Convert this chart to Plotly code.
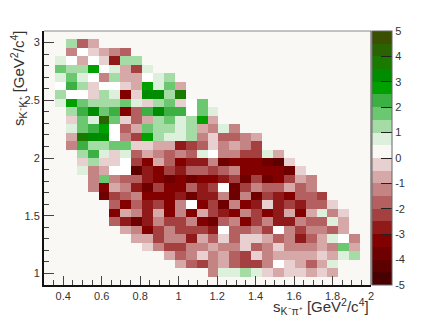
import numpy as np
import plotly.graph_objects as go

W = 9  # pure white cell
row_start = [2,2,1,1,1,1,1,1,2,2,2,2,2,3,3,3,4,4,5,6,6,6,7,8,9,11,12,15]
rows = [
[1.2,-1.8,-.8],
[-1.3,W,-.3,-.8,-1.3,-1.8],
[.7,W,-.8,W,-.3,-2.8,1.2,1.2],
[1.7,1.2,1.2,2.7,W,.7,-.8,-2.3,.7],
[.7,1.7,.7,W,-1.3,1.2,-.8,-.8,W,.7,1.2],
[W,2.2,1.2,-.3,W,W,-.3,-.8,2.7,.7,1.7,-.8],
[1.2,W,W,-.3,1.2,.7,-3.3,-.3,3.2,3.2,1.2,3.7],
[.7,2.7,1.7,1.2,1.2,1.2,1.7,.7,-.3,1.2,1.7,-.3,W,1.7],
[1.2,2.2,3.2,1.7,2.2,-3.3,-1.8,2.2,3.2,2.2,2.2,W,1.7,.7],
[-.3,1.7,.7,4.2,1.7,-.3,-1.8,-.8,1.2,1.7,.7,1.2,2.7,-.8],
[.7,1.7,2.2,2.7,W,-1.8,-.8,1.7,1.2,1.2,.7,1.2,-.8,-1.3,.7,-1.3],
[-.8,3.7,3.2,3.2,W,-1.3,-2.3,2.7,1.2,.7,.7,1.2,-1.3,-.3,-1.8,-1.8,-1.3,-.8],
[-1.3,2.2,1.2,1.2,1.7,1.7,-.3,-.3,-.8,-.8,-2.8,-2.3,-1.8,-.3,-1.3,-.8,-1.3,-2.3],
[1.2,2.2,.7,-.3,.7,-1.8,-.8,-1.3,-1.8,-1.3,-1.8,.7,W,-1.3,-1.3,-2.3,-2.3,.7,-.8],
[-.3,1.2,-.3,-.3,W,-2.3,-3.3,-.8,-1.8,-3.3,-2.8,-2.8,-1.3,-3.8,-3.3,-3.3,-3.3,-3.8,-4.2,-.3],
[.7,-1.3,-.8,W,W,-4.2,-2.8,-3.3,-2.3,-2.8,-1.8,-1.8,-2.3,-1.8,-1.3,-3.3,-3.3,-3.3,-3.3,-3.7,-.3],
[-1.3,1.7,-1.3,-1.8,-1.8,-2.8,-3.3,-3.7,-3.3,-3.7,-3.3,-3.3,-2.8,-2.3,-3.8,-2.3,-3.7,-3.3,-2.3,-.8,-1.3],
[-1.3,-3.2,-.8,-1.3,-2.8,-3.7,-2.3,-3.3,-3.3,-1.8,-2.8,-2.3,W,-3.8,-2.3,-1.3,-1.8,-1.8,-.8,-1.8,-1.3],
[-3.8,-2.3,-1.8,-1.3,-3.3,-3.3,-3.3,-2.8,-3.8,-2.8,-2.8,-1.3,-3.7,-1.3,-3.8,-2.3,-2.8,-3.3,-1.8,-1.8,-2.3],
[-1.8,-3.3,-1.8,-2.8,-2.3,-3.3,-1.3,W,-3.3,-2.3,-3.8,-1.3,-3.3,-2.8,-.3,-2.8,-2.3,-2.8,-1.8,-1.8,-.3],
[-3.3,-1.0,-1.3,-2.8,-.8,-3.3,-1.3,-3.3,-.8,-2.3,-2.8,-3.3,-1.3,-2.3,-3.3,-2.8,-.8,-3.3,-.8,.7,-1.3,-.3],
[-1.8,-2.8,-3.8,-2.8,-1.3,-2.3,-2.3,-1.3,-3.3,-3.8,-1.8,-1.3,-3.3,-2.3,-1.3,-2.8,-2.8,-1.3,-1.8,-1.8,.7,-.8],
[-.8,-1.3,-3.3,-2.3,-1.3,-2.3,-2.3,-2.3,-2.8,W,-1.8,-1.8,-1.3,-2.3,W,-1.3,-2.3,-1.3,-1.3,-1.8,-.8],
[-.8,-.8,-2.3,-1.3,-1.3,-2.8,-.8,-1.8,-.3,-1.8,-.3,-.3,-.8,-1.8,-1.3,-2.8,-1.8,-.8,.7,W,-1.3],
[-.3,-1.3,-2.3,-2.3,-1.3,-1.3,-.8,-1.3,-1.3,-.3,-1.8,-1.3,-.3,-1.3,-1.3,-1.3,-.8,-1.3,1.7,-.8],
[-.8,-1.8,-1.3,-.3,-1.3,-.8,-1.8,-2.3,-.3,-1.3,-.8,-.8,-.8,-.8,-.3,-.8,.7,1.2],
[-.8,-1.8,-2.3,-1.3,-.8,-1.8,-2.3,-2.3,-1.3,W,-.3,-.8,-1.8,-.8,.7],
[-1.3,.7,.7,1.2,.7,-.3,-.8,-.3,-.3,-.8,-.3,-.8],
]
band_colors = ["#4a0000","#5c0000","#6e0000","#820000","#901a1a","#a54040","#b56060","#c48484","#d6a8a8","#e8d0d0",
               "#faf8f5","#dcf0dc","#a5dca5","#6cc870","#3cb043","#00a000","#008c00","#1a7a00","#2a6400","#3a4f00"]
bar_ticks = [-5,-4,-3,-2,-1,0,1,2,3,4,5]
x_ticks = [0.4,0.6,0.8,1,1.2,1.4,1.6,1.8,2]
x_labels = ["0.4","0.6","0.8","1","1.2","1.4","1.6","1.8","2"]
y_ticks = [1,1.5,2,2.5,3]
y_labels = ["1","1.5","2","2.5","3"]

NX, NY = 30, 30
x_edges = np.linspace(0.3, 2.0, NX + 1)
y_edges = np.linspace(3.1, 0.9, NY + 1)
xc = (x_edges[:-1] + x_edges[1:]) / 2
yc = (y_edges[:-1] + y_edges[1:]) / 2

Z = np.full((NY, NX), np.nan)
for i, (s, r) in enumerate(zip(row_start, rows)):
    Z[i + 1, s:s + len(r)] = r
mask = Z == W
Zc = Z.copy(); Zc[mask] = np.nan
Zw = np.where(mask, 1.0, np.nan)

n = len(band_colors)
cs = []
for i, c in enumerate(band_colors):
    cs += [[i / n, c], [(i + 1) / n, c]]

fig = go.Figure()
fig.add_trace(go.Heatmap(x=xc, y=yc, z=Zw, showscale=False, hoverinfo="skip",
                         colorscale=[[0, "#ffffff"], [1, "#ffffff"]]))
fig.add_trace(go.Heatmap(x=xc, y=yc, z=Zc, zmin=-5, zmax=5, colorscale=cs,
    colorbar=dict(thickness=20, len=1, lenmode="fraction", x=1.003, xanchor="left", y=0, yanchor="bottom",
                  tickvals=bar_ticks, ticktext=[str(v) for v in bar_ticks],
                  ticks="inside", ticklen=11, tickcolor="#222", tickwidth=1,
                  outlinecolor="#666", outlinewidth=1, borderwidth=0, xpad=0, ypad=0,
                  tickfont=dict(family="Liberation Sans", size=11, color="#333"))))
axis_font = dict(family="Liberation Sans", size=11, color="#333")
fig.update_layout(
    width=428, height=309, autosize=False,
    margin=dict(l=35.5, r=65, t=23, b=32),
    paper_bgcolor="white", plot_bgcolor="#faf8f5",
    xaxis=dict(range=[0.3, 2.0], tickvals=x_ticks, ticktext=x_labels, tickangle=0, automargin=False,
               ticks="inside", ticklen=9, tickcolor="#444", tickwidth=1,
               tickfont=axis_font, showgrid=False, zeroline=False, showline=True, linecolor="#111", linewidth=2,
               minor=dict(dtick=0.05, tick0=0, ticks="inside", ticklen=5, tickcolor="#444", tickwidth=1, showgrid=False)),
    yaxis=dict(range=[0.9, 3.1], tickvals=y_ticks, ticktext=y_labels, automargin=False,
               ticks="inside", ticklen=10, tickcolor="#444", tickwidth=1,
               tickfont=axis_font, showgrid=False, zeroline=False, showline=True, linecolor="#111", linewidth=2,
               minor=dict(dtick=0.1, tick0=0, ticks="inside", ticklen=5, tickcolor="#444", tickwidth=1, showgrid=False)),
    shapes=[dict(type="line", xref="paper", yref="paper", x0=0, x1=1, y0=1, y1=1, line=dict(color="#888", width=1)),
            dict(type="line", xref="paper", yref="paper", x0=1, x1=1, y0=0, y1=1, line=dict(color="#444", width=1))],
    annotations=[
        dict(text="s<sub>K⁻π⁺</sub> [GeV<sup>2</sup>/c<sup>4</sup>]", xref="paper", yref="paper", x=1, y=0,
             xanchor="right", yanchor="top", yshift=-9, showarrow=False,
             font=dict(family="Liberation Sans", size=15, color="#333")),
        dict(text="s<sub>K⁻K⁺</sub> [GeV<sup>2</sup>/c<sup>4</sup>]", xref="paper", yref="paper", x=0, y=1,
             xanchor="right", yanchor="top", xshift=-13, yshift=2, textangle=-90, showarrow=False,
             font=dict(family="Liberation Sans", size=15, color="#333")),
    ],
)
fig.write_html("out.html")
